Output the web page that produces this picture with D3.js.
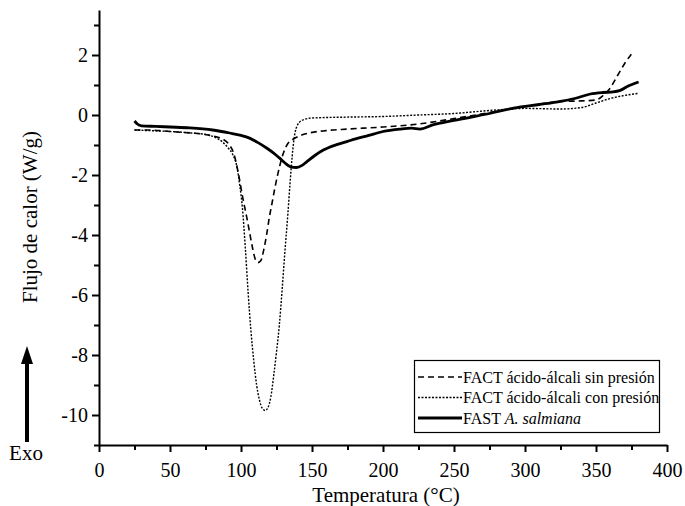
<!DOCTYPE html>
<html>
<head>
<meta charset="utf-8">
<script src="https://cdn.jsdelivr.net/npm/d3@7"></script>
<style>
  body { margin: 0; background: #fff; }
  svg text { font-family: "Liberation Serif", "Times New Roman", serif; fill: #000; }
</style>
</head>
<body>
<div id="chart"></div>
<script>
/* DATA */
// FACT acido-alcali sin presion (dashed)
const sinTemp = [25, 35, 50, 65, 75, 82, 87, 91, 95, 98, 101, 104, 106, 108, 110, 112, 114, 116, 118, 120, 122, 124, 127, 130, 133, 136, 141, 148, 160, 175, 200, 225, 250, 275, 300, 325, 340, 350, 355, 360, 365, 370, 376];
const sinFlow = [-0.5, -0.5, -0.55, -0.6, -0.65, -0.72, -0.8, -0.95, -1.3, -1.9, -2.7, -3.4, -3.9, -4.4, -4.8, -4.92, -4.85, -4.5, -4.0, -3.4, -2.9, -2.4, -1.75, -1.25, -0.95, -0.83, -0.7, -0.6, -0.52, -0.47, -0.4, -0.3, -0.12, 0.08, 0.28, 0.45, 0.47, 0.5, 0.65, 0.9, 1.3, 1.7, 2.1];

// FACT acido-alcali con presion (dotted)
const conTemp = [25, 35, 50, 65, 75, 82, 87, 91, 94, 97, 99, 101, 103, 105, 107, 109, 111, 113, 115, 117, 119, 121, 123, 125, 127, 129, 131, 133, 134.5, 136, 138, 141, 145, 150, 175, 200, 225, 250, 275, 300, 325, 340, 350, 360, 370, 380];
const conFlow = [-0.5, -0.52, -0.55, -0.6, -0.65, -0.75, -0.9, -1.1, -1.3, -1.7, -2.3, -3.1, -4.4, -5.9, -7.2, -8.2, -9.0, -9.5, -9.78, -9.85, -9.75, -9.4, -8.7, -7.9, -7.0, -5.8, -4.5, -3.3, -2.3, -1.4, -0.6, -0.25, -0.14, -0.1, -0.07, -0.05, 0.0, 0.05, 0.15, 0.22, 0.2, 0.25, 0.4, 0.55, 0.65, 0.72];

// FAST A. salmiana (solid)
const fastTemp = [25, 27, 30, 40, 50, 64, 80, 92, 100, 106, 112, 118, 123, 127, 131, 135, 139, 143, 146, 152, 158, 168, 177, 190, 200, 212, 220, 226, 235, 250, 275, 292, 310, 322, 335, 346, 355, 362, 367, 372, 380];
const fastFlow = [-0.2, -0.3, -0.36, -0.38, -0.4, -0.43, -0.5, -0.6, -0.68, -0.77, -0.92, -1.1, -1.27, -1.43, -1.6, -1.73, -1.75, -1.68, -1.57, -1.35, -1.17, -0.98, -0.85, -0.68, -0.55, -0.47, -0.44, -0.47, -0.33, -0.18, 0.05, 0.23, 0.35, 0.43, 0.55, 0.7, 0.75, 0.77, 0.82, 0.95, 1.1];

const xTicks = [0, 50, 100, 150, 200, 250, 300, 350, 400];
const xMinor = [25, 75, 125, 175, 225, 275, 325, 375];
const yTicks = [-10, -8, -6, -4, -2, 0, 2];
const yMinor = [-11, -9, -7, -5, -3, -1, 1, 3];

const seriesNames = ["FACT ácido-álcali sin presión", "FACT ácido-álcali con presión", "FAST"];

/* CONSTANTS */
const width = 685;
const height = 506;
const margin = { top: 10, right: 18, bottom: 61, left: 99 };

const svg = d3.select("#chart")
  .append("svg")
  .attr("width", width)
  .attr("height", height);

// SCALES
const xScale = d3.scaleLinear()
  .domain([0, 400])
  .range([margin.left, width - margin.right]);

const yScale = d3.scaleLinear()
  .domain([-11, 3.5])
  .range([height - margin.bottom, margin.top]);

// AXES
const xAxisGroup = svg.append("g")
  .attr("transform", `translate(0, ${yScale(-11)})`)
  .call(d3.axisBottom(xScale).tickValues(xTicks).tickSize(7).tickSizeOuter(0).tickFormat(d3.format("d")));

svg.append("g")
  .attr("transform", `translate(0, ${yScale(-11)})`)
  .call(d3.axisBottom(xScale).tickValues(xMinor).tickSize(5).tickFormat(""))
  .call(g => g.select(".domain").remove());

const yAxisGroup = svg.append("g")
  .attr("transform", `translate(${xScale(0)}, 0)`)
  .call(d3.axisLeft(yScale).tickValues(yTicks).tickSize(7).tickPadding(4).tickSizeOuter(0).tickFormat(d3.format("d")));

svg.append("g")
  .attr("transform", `translate(${xScale(0)}, 0)`)
  .call(d3.axisLeft(yScale).tickValues(yMinor).tickSize(5).tickFormat(""))
  .call(g => g.select(".domain").remove());

svg.selectAll(".domain, .tick line")
  .attr("stroke", "#000")
  .attr("stroke-width", 2);

xAxisGroup.selectAll("text")
  .style("font-size", "20px")
  .attr("dy", "1.1em");

yAxisGroup.selectAll("text")
  .style("font-size", "20px")
  .text(d => d < 0 ? "-" + Math.abs(d) : d);

// AXIS LABELS
svg.append("text")
  .attr("x", (xScale(0) + xScale(400)) / 2 + 3)
  .attr("y", 502)
  .attr("text-anchor", "middle")
  .style("font-size", "21px")
  .text("Temperatura (°C)");

svg.append("text")
  .attr("transform", `translate(37, ${yScale(-3.4)}) rotate(-90)`)
  .attr("text-anchor", "middle")
  .style("font-size", "21px")
  .text("Flujo de calor (W/g)");

// EXO ARROW
svg.append("line")
  .attr("x1", 27).attr("x2", 27)
  .attr("y1", 360).attr("y2", 442)
  .attr("stroke", "#000")
  .attr("stroke-width", 4);

svg.append("path")
  .attr("d", "M27,346 L21,364 L33,364 Z")
  .attr("fill", "#000");

svg.append("text")
  .attr("x", 26)
  .attr("y", 460)
  .attr("text-anchor", "middle")
  .style("font-size", "21px")
  .text("Exo");

// LINES
const line = d3.line()
  .x(d => xScale(d[0]))
  .y(d => yScale(d[1]))
  .curve(d3.curveMonotoneX);

const series = [
  { name: seriesNames[0], pts: d3.zip(sinTemp, sinFlow), width: 1.6, dash: "6,4" },
  { name: seriesNames[1], pts: d3.zip(conTemp, conFlow), width: 1.4, dash: "2,1.5" },
  { name: seriesNames[2], pts: d3.zip(fastTemp, fastFlow), width: 2.8, dash: null }
];

svg.selectAll(".curve")
  .data(series)
  .join("path")
  .attr("class", "curve")
  .attr("d", d => line(d.pts))
  .attr("fill", "none")
  .attr("stroke", "#000")
  .attr("stroke-width", d => d.width)
  .attr("stroke-dasharray", d => d.dash);

// LEGEND
const legend = svg.append("g");

legend.append("rect")
  .attr("x", 414.5).attr("y", 360.5)
  .attr("width", 245).attr("height", 72)
  .attr("fill", "#fff")
  .attr("stroke", "#000")
  .attr("stroke-width", 1.2);

const rows = legend.selectAll(".row")
  .data(series)
  .join("g")
  .attr("class", "row")
  .attr("transform", (d, i) => `translate(0, ${377 + i * 20.5})`);

rows.append("line")
  .attr("x1", 418).attr("x2", 462)
  .attr("y1", 0).attr("y2", 0)
  .attr("stroke", "#000")
  .attr("stroke-width", d => d.width)
  .attr("stroke-dasharray", d => d.dash);

rows.append("text")
  .attr("x", 463)
  .attr("y", 5.5)
  .style("font-size", "16px")
  .each(function(d) {
    const t = d3.select(this);
    if (d.name === "FAST") {
      t.append("tspan").text("FAST ");
      t.append("tspan").style("font-style", "italic").text("A. salmiana");
    } else {
      t.text(d.name);
    }
  });
</script>
</body>
</html>
